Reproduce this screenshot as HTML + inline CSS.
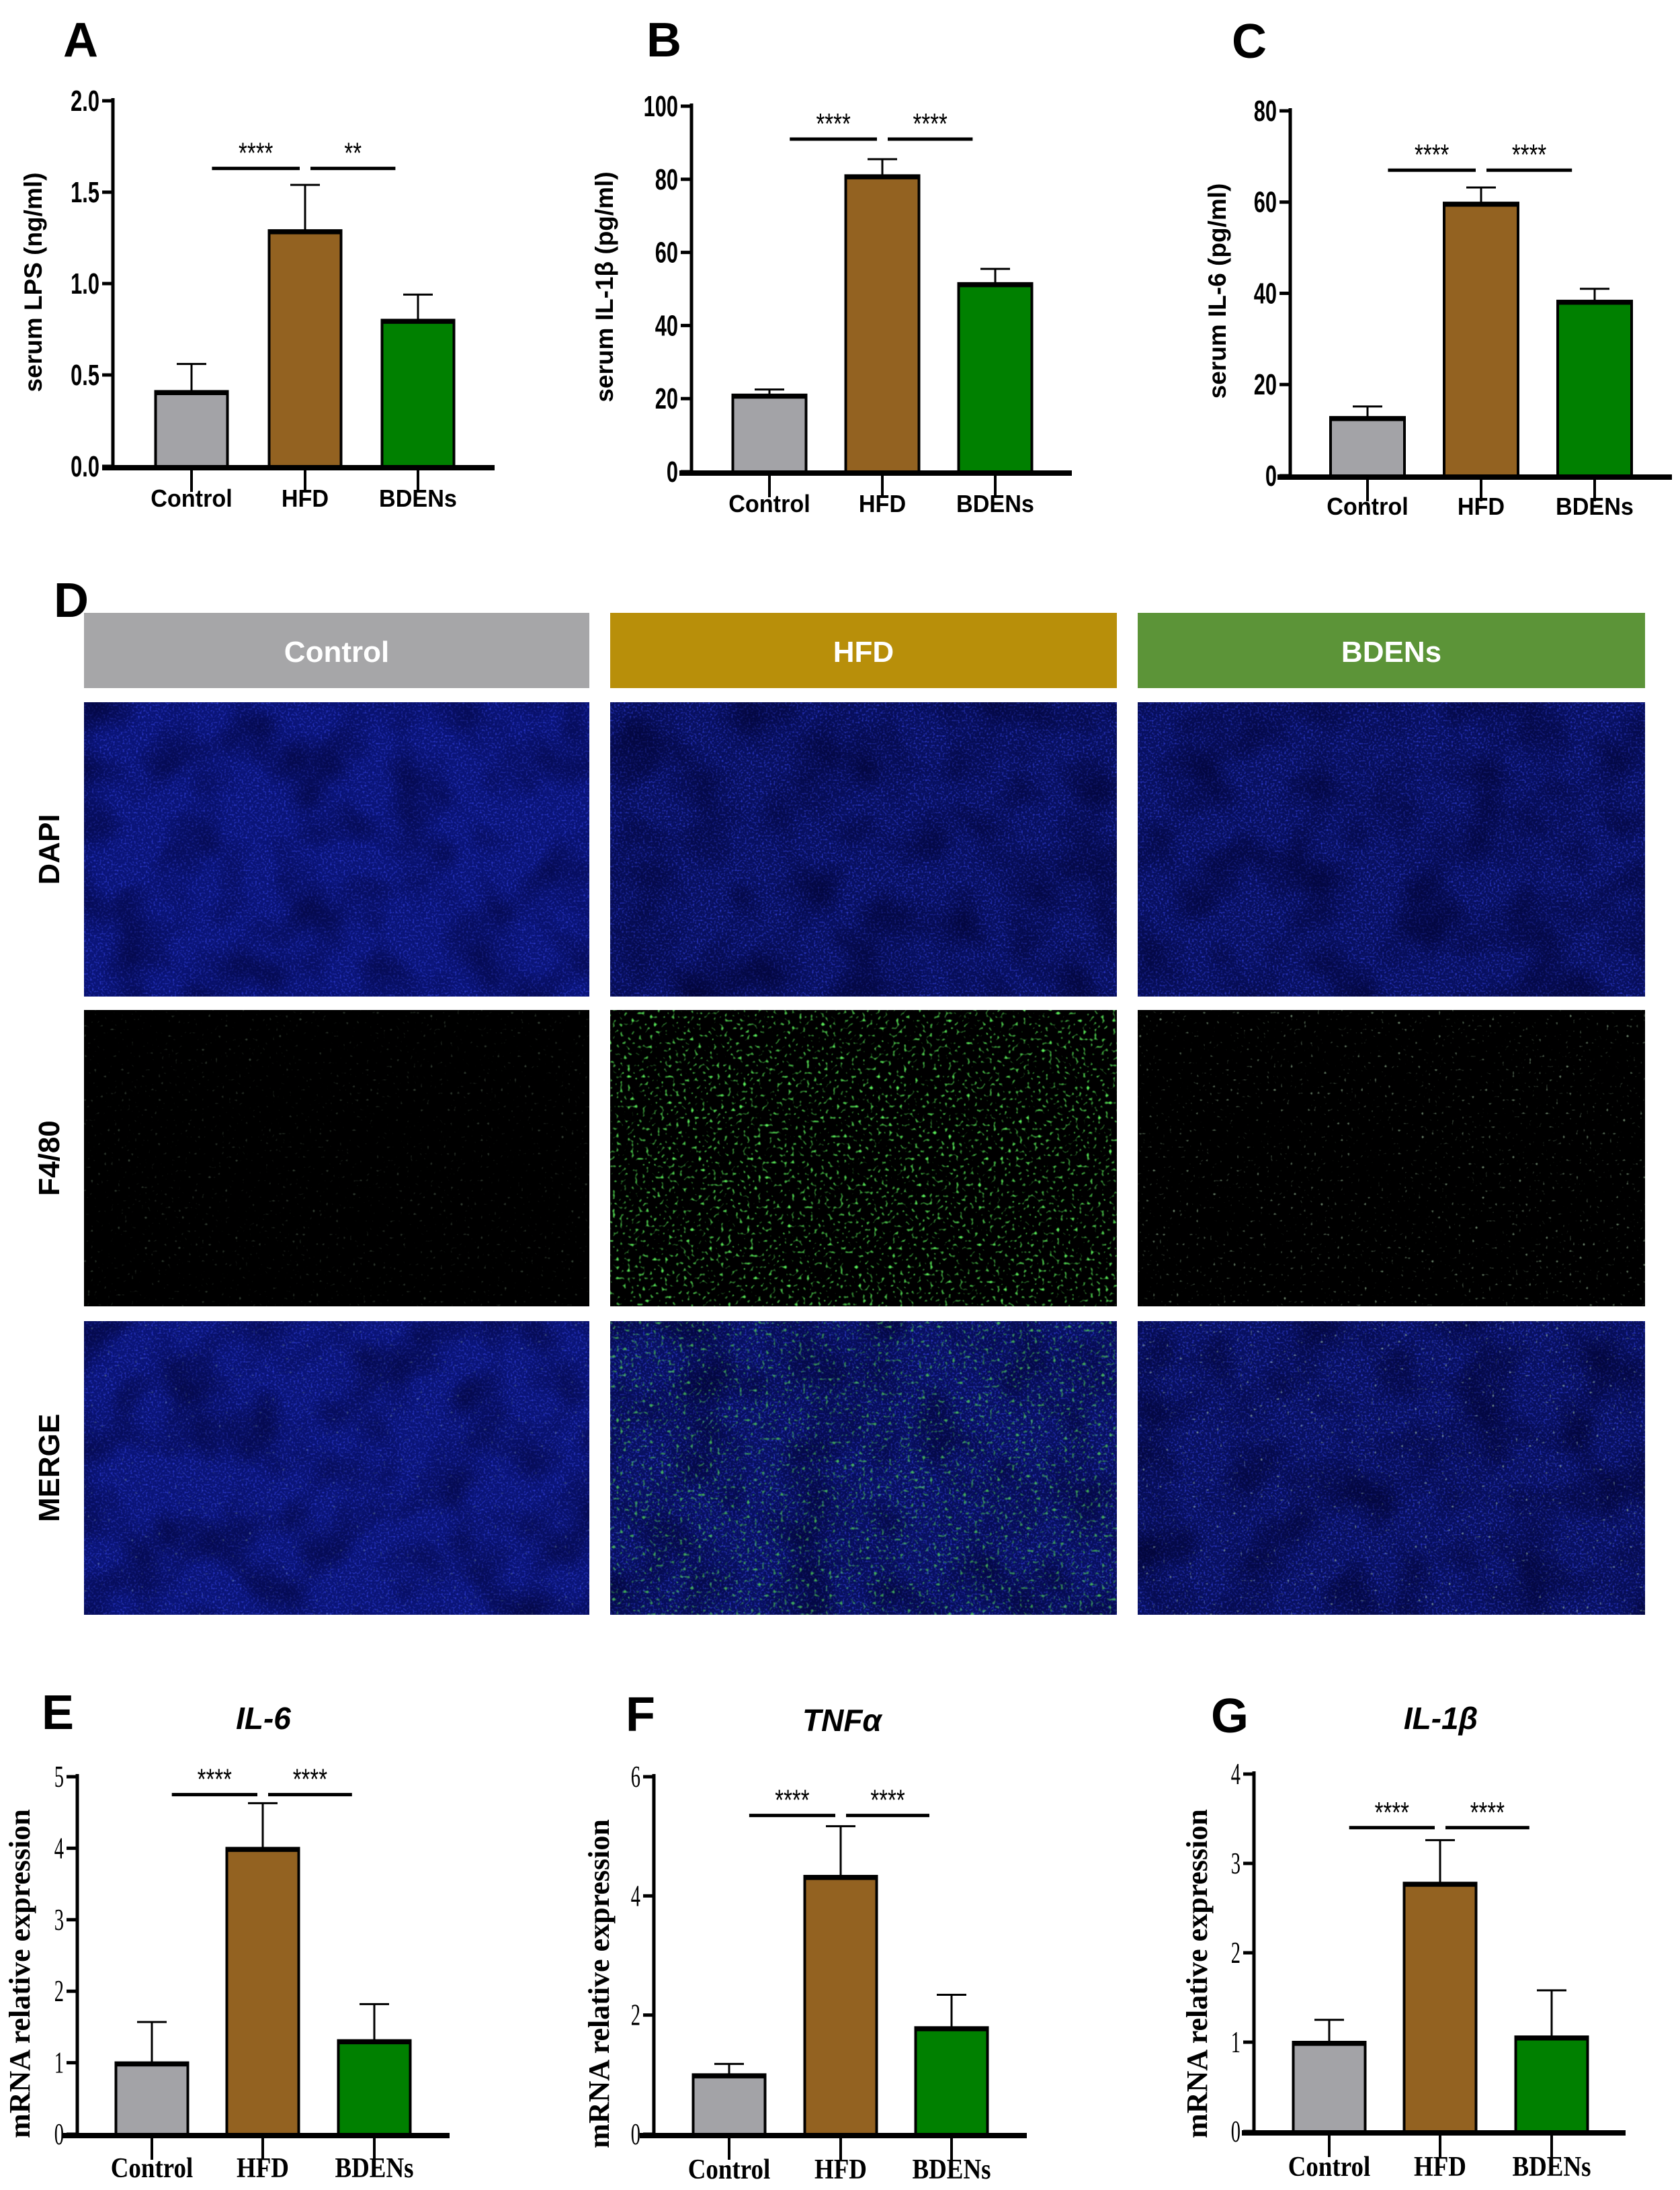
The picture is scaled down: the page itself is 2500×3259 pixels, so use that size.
<!DOCTYPE html>
<html><head><meta charset="utf-8"><style>
html,body{margin:0;padding:0;background:#fff;}
svg{display:block;}
</style></head><body>
<svg id="fig" width="2500" height="3259" viewBox="0 0 2500 3259" xmlns="http://www.w3.org/2000/svg">
<defs>
<filter id="speckBlue" x="0" y="0" width="100%" height="100%">
<feTurbulence type="fractalNoise" baseFrequency="0.35" numOctaves="1" seed="3" result="n"/>
<feColorMatrix in="n" type="matrix" values="0 0 0 0 0.03  0 0 0 0 0.05  0 0 0 0 0.7  0 0 0 2.6 -1.3"/>
</filter>
<filter id="darkBlotch" x="0" y="0" width="100%" height="100%">
<feTurbulence type="fractalNoise" baseFrequency="0.012" numOctaves="2" seed="5" result="n"/>
<feColorMatrix in="n" type="matrix" values="0 0 0 0 0  0 0 0 0 0  0 0 0 0 0.02  0 0 0 2.2 -0.9"/>
</filter>
<filter id="speckGreen" x="0" y="0" width="100%" height="100%">
<feTurbulence type="fractalNoise" baseFrequency="0.18" numOctaves="1" seed="7" result="n"/>
<feColorMatrix in="n" type="matrix" values="0 0 0 0 0.1  0 0 0 0 0.85  0 0 0 0 0.1  0 0 0 5 -3.0"/>
</filter>
<filter id="speckGreenLow" x="0" y="0" width="100%" height="100%">
<feTurbulence type="fractalNoise" baseFrequency="0.2" numOctaves="1" seed="11" result="n"/>
<feColorMatrix in="n" type="matrix" values="0 0 0 0 0.5  0 0 0 0 0.8  0 0 0 0 0.5  0 0 0 5 -3.4"/>
</filter>
</defs>
<g id="static"></g>
<g id="charts"></g>
</svg>
<script>
// ---- chart data ----
const categories = ["Control","HFD","BDENs"];
const valsA = [0.41, 1.29, 0.80];
const errsA = [0.56, 1.54, 0.94];
const ticksA = [0, 0.5, 1.0, 1.5, 2.0];
const tickLabelsA = ["0.0","0.5","1.0","1.5","2.0"];
const valsB = [21, 81, 51.5];
const errsB = [22.5, 85.5, 55.5];
const ticksB = [0, 20, 40, 60, 80, 100];
const valsC = [12.8, 59.8, 38.3];
const errsC = [15.2, 63.2, 41.0];
const ticksC = [0, 20, 40, 60, 80];
const valsE = [1.0, 4.0, 1.31];
const errsE = [1.57, 4.63, 1.82];
const ticksE = [0, 1, 2, 3, 4, 5];
const valsF = [1.0, 4.33, 1.79];
const errsF = [1.18, 5.17, 2.34];
const ticksF = [0, 2, 4, 6];
const valsG = [1.0, 2.78, 1.06];
const errsG = [1.25, 3.26, 1.58];
const ticksG = [0, 1, 2, 3, 4];
const sigA = ["****","**"];
const sigB = ["****","****"];
const sigC = ["****","****"];
const sigE = ["****","****"];
const sigF = ["****","****"];
const sigG = ["****","****"];
const sigLevelA = 1.63, sigLevelB = 91, sigLevelC = 67, sigLevelE = 4.75, sigLevelF = 5.35, sigLevelG = 3.4;

const NS = "http://www.w3.org/2000/svg";
const barColors = ["#a3a3a7","#936221","#008000"];
function mk(tag, attrs, parent, text){
  const e = document.createElementNS(NS, tag);
  for (const k in attrs) e.setAttribute(k, attrs[k]);
  if (text !== undefined) e.textContent = text;
  parent.appendChild(e);
  return e;
}
const charts = document.getElementById('charts');
const stat = document.getElementById('static');

function drawChart(cfg){
  const g = mk('g', {}, charts);
  
  
  const y = v => cfg.y0 - (v / cfg.max) * (cfg.y0 - cfg.yTop);
  const serif = cfg.serif;
  const ff = serif ? '"Liberation Serif", serif' : '"Liberation Sans", sans-serif';
  const ya = mk('line', {x1:cfg.ax, x2:cfg.ax, y1:cfg.yTop-4, y2:cfg.y0, stroke:'#000','stroke-width':5}, g);
  
  
  cfg.ticks.forEach((t,i)=>{
    const ty = y(t);
    const tk = mk('line', {x1:cfg.ax-16, x2:cfg.ax, y1:ty, y2:ty, stroke:'#000','stroke-width':5}, g);
    
    
    const lbl = cfg.tickLabels ? cfg.tickLabels[i] : String(t);
    const tx = cfg.ax-20;
    const tl = mk('text', {x:tx, y:ty+15, 'text-anchor':'end', 'font-family':ff, 'font-size':serif?46:44, 'font-weight':serif?'normal':'bold', transform:`translate(${tx},${ty}) scale(${serif?0.62:0.7},1) translate(${-tx},${-ty})`}, g, lbl);
    
    
  });
  cfg.vals.forEach((v,i)=>{
    const cx = cfg.centers[i];
    const top = y(v), et = y(cfg.errs[i]);
    const eb = mk('line', {x1:cx, x2:cx, y1:et, y2:top, stroke:'#000','stroke-width':3}, g);
    
    
    const cap = mk('line', {x1:cx-22, x2:cx+22, y1:et, y2:et, stroke:'#000','stroke-width':3}, g);
    
    
    const r = mk('rect', {x:cx-cfg.bw/2, y:top, width:cfg.bw, height:cfg.y0-top, fill:barColors[i], stroke:'#000','stroke-width':4}, g);
    
    
    const tl = mk('line', {x1:cx-cfg.bw/2, x2:cx+cfg.bw/2, y1:top+2, y2:top+2, stroke:'#000','stroke-width':7}, g);
    
    
    const xt = mk('line', {x1:cx, x2:cx, y1:cfg.y0, y2:cfg.y0+38, stroke:'#000','stroke-width':4}, g);
    
    
    const lx = mk('text', {x:cx, y:cfg.labelY, 'text-anchor':'middle', 'font-family':ff, 'font-size':serif?42:36, 'font-weight':'bold', transform:`translate(${cx},0) scale(${serif?0.88:0.95},1) translate(${-cx},0)`}, g, categories[i]);
    
    
  });
  const xa = mk('line', {x1:cfg.xl0, x2:cfg.xl1, y1:cfg.y0+2, y2:cfg.y0+2, stroke:'#000','stroke-width':8}, g);
  
  
  const sy = y(cfg.sigLevel);
  const c = cfg.centers;
  const segs = [[c[0]+(c[1]-c[0])*0.18, c[1]-8],[c[1]+8, c[2]-(c[2]-c[1])*0.2]];
  segs.forEach((s,i)=>{
    const l = mk('line', {x1:s[0], x2:s[1], y1:sy, y2:sy, stroke:'#000','stroke-width':5}, g);
    
    
    const mx = (s[0]+s[1])/2;
    const st = mk('text', {x:mx, y:sy-8, 'text-anchor':'middle', 'font-family':'"Liberation Sans", sans-serif', 'font-size':44, transform:`translate(${mx},0) scale(0.75,1) translate(${-mx},0)`}, g, cfg.sig[i]);
    
    
  });
  const yt = mk('text', {x:0, y:0, 'text-anchor':'middle', 'font-family':ff, 'font-size':serif?44:37, 'font-weight':'bold', transform:`translate(${cfg.titleX},${cfg.titleY}) rotate(-90)`}, g, cfg.yTitle);
  
  
  if (cfg.title){
    const t = mk('text', {x:cfg.titleCx, y:cfg.titleCy, 'text-anchor':'middle', 'font-family':'"Liberation Sans", sans-serif', 'font-size':46, 'font-weight':'bold', 'font-style':'italic'}, g, cfg.title);
    
    
  }
}

drawChart({name:'chart-a-lps', vals:valsA, errs:errsA, ticks:ticksA, tickLabels:tickLabelsA, max:2, ax:168, xl0:152, xl1:736, y0:694, yTop:150, centers:[285,454,622], bw:107, labelY:754, sig:sigA, sigLevel:sigLevelA, yTitle:'serum LPS (ng/ml)', titleX:62, titleY:420});
drawChart({name:'chart-b-il1b', vals:valsB, errs:errsB, ticks:ticksB, max:100, ax:1029, xl0:1011, xl1:1595, y0:702, yTop:158, centers:[1145,1313,1481], bw:109, labelY:762, sig:sigB, sigLevel:sigLevelB, yTitle:'serum IL-1β (pg/ml)', titleX:912, titleY:427});
drawChart({name:'chart-c-il6', vals:valsC, errs:errsC, ticks:ticksC, max:80, ax:1920, xl0:1901, xl1:2488, y0:708, yTop:165, centers:[2035,2204,2373], bw:110, labelY:766, sig:sigC, sigLevel:sigLevelC, yTitle:'serum IL-6 (pg/ml)', titleX:1824, titleY:433});
drawChart({name:'chart-e-il6-mrna', serif:true, vals:valsE, errs:errsE, ticks:ticksE, max:5, ax:115, xl0:93, xl1:669, y0:3176, yTop:2644, centers:[226,391,557], bw:107, labelY:3240, sig:sigE, sigLevel:sigLevelE, yTitle:'mRNA relative expression', titleX:44, titleY:2937, title:'IL-6', titleCx:392, titleCy:2573});
drawChart({name:'chart-f-tnfa-mrna', serif:true, vals:valsF, errs:errsF, ticks:ticksF, max:6, ax:973, xl0:952, xl1:1528, y0:3176, yTop:2644, centers:[1085,1251,1416], bw:107, labelY:3242, sig:sigF, sigLevel:sigLevelF, yTitle:'mRNA relative expression', titleX:906, titleY:2952, title:'TNFα', titleCx:1253, titleCy:2576});
drawChart({name:'chart-g-il1b-mrna', serif:true, vals:valsG, errs:errsG, ticks:ticksG, max:4, ax:1866, xl0:1848, xl1:2419, y0:3172, yTop:2640, centers:[1978,2143,2309], bw:107, labelY:3238, sig:sigG, sigLevel:sigLevelG, yTitle:'mRNA relative expression', titleX:1796, titleY:2937, title:'IL-1β', titleCx:2144, titleCy:2573});

[['A',94,84],['B',962,84],['C',1833,86],['D',80,918],['E',62,2573],['F',931,2576],['G',1802,2578]].forEach(p=>{
  const t = mk('text', {x:p[1], y:p[2], 'font-family':'"Liberation Sans", sans-serif', 'font-size':72, 'font-weight':'bold'}, stat, p[0]);
  
  
});

const colX = [[125,877],[908,1662],[1693,2448]];
const headColors = ["#a6a6a8","#b88f0a","#5c9438"];
const rowNames = ["DAPI","F4/80","MERGE"];
const rowY = [[1045,1483],[1503,1944],[1966,2403]];
colX.forEach((c,i)=>{
  const r = mk('rect', {x:c[0], y:912, width:c[1]-c[0], height:112, fill:headColors[i]}, stat);
  
  
  const t = mk('text', {x:(c[0]+c[1])/2, y:985, 'text-anchor':'middle', fill:'#fff', 'font-family':'"Liberation Sans", sans-serif', 'font-size':44, 'font-weight':'bold'}, stat, categories[i]);
  
  
  rowY.forEach((ry,j)=>{
    const w = c[1]-c[0], h = ry[1]-ry[0];
    const base = j===1 ? '#000000' : (i===0 ? '#0a1478' : '#081060');
    const img = mk('rect', {x:c[0], y:ry[0], width:w, height:h, fill:base}, stat);
    
    
    if (j!==1) {
      mk('rect', {x:c[0], y:ry[0], width:w, height:h, filter:'url(#speckBlue)'}, stat);
      mk('rect', {x:c[0], y:ry[0], width:w, height:h, filter:'url(#darkBlotch)', opacity:0.6}, stat);
    }
    if (j!==0 && i===1) mk('rect', {x:c[0], y:ry[0], width:w, height:h, filter:'url(#speckGreen)', opacity: j===2?0.7:1}, stat);
    if (j!==0 && i===2) mk('rect', {x:c[0], y:ry[0], width:w, height:h, filter:'url(#speckGreenLow)', opacity:0.7}, stat);
    if (j!==0 && i===0) mk('rect', {x:c[0], y:ry[0], width:w, height:h, filter:'url(#speckGreenLow)', opacity:0.35}, stat);
  });
});
rowNames.forEach((n,j)=>{
  const cy = (rowY[j][0]+rowY[j][1])/2;
  const t = mk('text', {x:0, y:0, 'text-anchor':'middle', 'font-family':'"Liberation Sans", sans-serif', 'font-size':44, 'font-weight':'bold', transform:`translate(88,${cy}) rotate(-90)`}, stat, n);
  
  
});
</script>
</body></html>
